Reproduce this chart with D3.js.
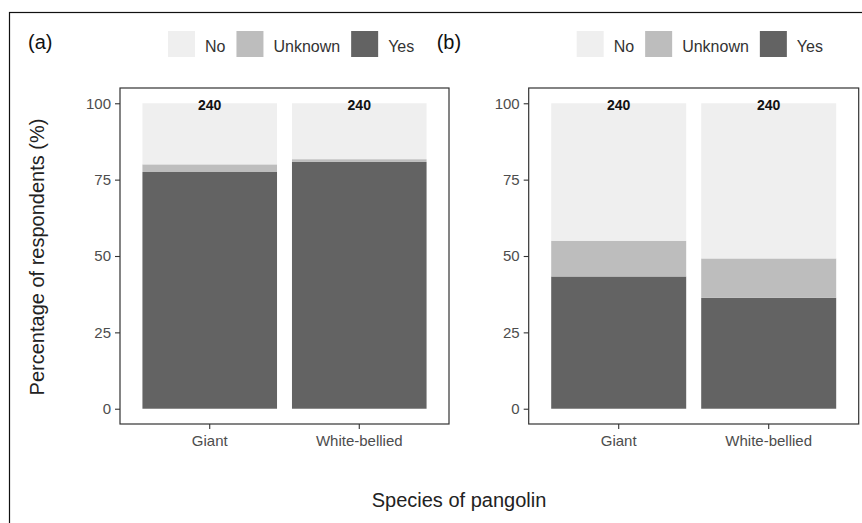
<!DOCTYPE html>
<html>
<head>
<meta charset="utf-8">
<script src="https://cdn.jsdelivr.net/npm/d3@7"></script>
<style>
  body { margin: 0; background: #fff; }
  svg { display: block; font-family: "Liberation Sans", Arial, sans-serif; }
</style>
</head>
<body>
<div id="container"></div>
<script>
// Data (percent of respondents)
var species = ["Giant", "White-bellied"];
var answers = ["Yes", "Unknown", "No"];       // stack order, bottom to top
var legendOrder = ["No", "Unknown", "Yes"];
var panelA_yes = [77.5, 80.8];
var panelA_unknown = [2.5, 0.9];
var panelA_no = [20.0, 18.3];
var panelB_yes = [43.3, 36.3];
var panelB_unknown = [11.7, 12.9];
var panelB_no = [45.0, 50.8];
var sampleSize = [240, 240];
var yTicks = [0, 25, 50, 75, 100];

var colors = { "No": "#efefef", "Unknown": "#bdbdbd", "Yes": "#636363" };

var w = 862, h = 523;

var svg = d3.select("#container")
  .append("svg")
  .attr("width", w)
  .attr("height", h);

// outer frame (runs off the picture at right and bottom)
svg.append("rect")
  .attr("x", 9.5).attr("y", 12.5)
  .attr("width", w + 20).attr("height", h + 20)
  .attr("fill", "none")
  .attr("stroke", "#111")
  .attr("stroke-width", 1.2);

function makePanel(tag, left, right, yes, unknown, no) {
  var top = 88, bottom = 424;

  var rows = species.map(function(s, i) {
    return { species: s, Yes: yes[i], Unknown: unknown[i], No: no[i], n: sampleSize[i] };
  });
  var stacked = d3.stack().keys(answers)(rows);

  var x = d3.scaleBand()
    .domain(species)
    .range([left, right])
    .paddingInner(0.1)
    .paddingOuter(0.15);

  var y = d3.scaleLinear()
    .domain([-5, 105])
    .range([bottom, top]);

  var g = svg.append("g");

  g.selectAll("g.layer")
    .data(stacked)
    .enter()
    .append("g")
    .attr("class", "layer")
    .attr("fill", function(d) { return colors[d.key]; })
    .selectAll("rect")
    .data(function(d) { return d; })
    .enter()
    .append("rect")
    .attr("x", function(d) { return x(d.data.species); })
    .attr("y", function(d) { return y(d[1]); })
    .attr("width", x.bandwidth())
    .attr("height", function(d) { return y(d[0]) - y(d[1]); });

  // sample size labels
  g.selectAll("text.n")
    .data(rows)
    .enter()
    .append("text")
    .attr("class", "n")
    .attr("x", function(d) { return x(d.species) + x.bandwidth() / 2; })
    .attr("y", y(100) + 7)
    .attr("text-anchor", "middle")
    .attr("font-size", "14px")
    .attr("font-weight", "bold")
    .attr("fill", "#111")
    .text(function(d) { return d.n; });

  // axes
  var yAxis = d3.axisLeft(y).tickValues(yTicks).tickSize(5).tickPadding(4);
  var ya = g.append("g").attr("transform", "translate(" + left + ",0)").call(yAxis);
  var xAxis = d3.axisBottom(x).tickSize(5).tickPadding(6);
  var xa = g.append("g").attr("transform", "translate(0," + bottom + ")").call(xAxis);
  [ya, xa].forEach(function(a) {
    a.select(".domain").remove();
    a.selectAll("line").attr("stroke", "#333").attr("stroke-width", 1.1);
    a.selectAll("text")
      .attr("font-size", "15px")
      .attr("fill", "#4d4d4d")
      .attr("font-family", "Liberation Sans, Arial, sans-serif");
  });

  // panel border
  g.append("rect")
    .attr("x", left).attr("y", top)
    .attr("width", right - left).attr("height", bottom - top)
    .attr("fill", "none")
    .attr("stroke", "#333")
    .attr("stroke-width", 1.2);

  // panel tag
  svg.append("text")
    .attr("x", left - 92)
    .attr("y", 49)
    .attr("font-size", "20px")
    .attr("fill", "#111")
    .text(tag);

  // legend
  var lx = left + 48;
  legendOrder.forEach(function(k) {
    svg.append("rect")
      .attr("x", lx).attr("y", 31)
      .attr("width", 27).attr("height", 26)
      .attr("fill", colors[k]);
    var t = svg.append("text")
      .attr("x", lx + 37)
      .attr("y", 52)
      .attr("font-size", "16px")
      .attr("fill", "#333")
      .text(k);
    lx = lx + 37 + t.node().getComputedTextLength() + 11;
  });
}

makePanel("(a)", 120, 449, panelA_yes, panelA_unknown, panelA_no);
makePanel("(b)", 528.7, 858.7, panelB_yes, panelB_unknown, panelB_no);

// axis titles
svg.append("text")
  .attr("x", 459)
  .attr("y", 507)
  .attr("text-anchor", "middle")
  .attr("font-size", "20px")
  .attr("fill", "#222")
  .text("Species of pangolin");

svg.append("text")
  .attr("transform", "translate(44,257) rotate(-90)")
  .attr("text-anchor", "middle")
  .attr("font-size", "20px")
  .attr("fill", "#222")
  .text("Percentage of respondents (%)");
</script>
</body>
</html>
